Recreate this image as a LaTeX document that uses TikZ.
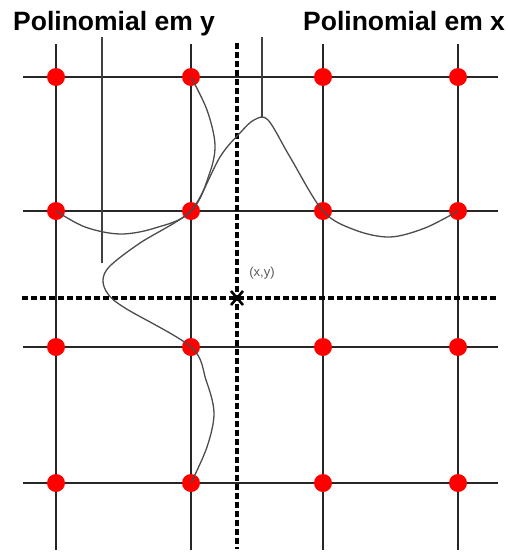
\documentclass[tikz,border=0pt]{standalone}
\usepackage{fontspec}
\setmainfont{Liberation Sans}
\begin{document}
\begin{tikzpicture}[x=1pt,y=-1pt,
  gridline/.style={line width=2.3pt,black!85},
  dashline/.style={line width=3.3pt,black,dash pattern=on 6pt off 3pt},
  thinline/.style={line width=1.1pt,black!75},
  curve/.style={line width=1.3pt,black!70},
  reddot/.style={circle,fill=red,inner sep=0pt,minimum size=18pt},
  title/.style={font=\bfseries\fontsize{26.5}{30}\selectfont,inner sep=0pt,anchor=base west}]
\useasboundingbox (0,0) rectangle (508,552);
% grid lines
\foreach \x in {56,191,323,458} \draw[gridline] (\x,44) -- (\x,550);
\foreach \y in {77,211,347,483} \draw[gridline] (23,\y) -- (498,\y);
% dashed lines through (x,y)
\draw[dashline] (237,43) -- (237,549);
\draw[dashline] (22,298) -- (497,298);
% thin marker lines
\draw[thinline] (102,37) -- (102,263);
\draw[thinline] (262,37) -- (262,118);
% dots
\foreach \i/\x in {1/56,2/191,3/323,4/458}
  \foreach \j/\y in {1/77,2/211,3/347,4/483}
    \node[reddot] (d\i\j) at (\x,\y) {};
% polynomial in x
\draw[curve] plot[smooth,tension=0.55] coordinates {(d12) (85,227) (120,234) (155,228) (d22) (220,157) (240,133) (254,120) (268,120) (290,157) (d32) (355,230) (390,237) (425,228) (d42)};
% polynomial in y
\draw[curve] plot[smooth,tension=0.55] coordinates {(d21) (207,110) (215,145) (209,175) (d22) (140,243) (110,266) (103,280) (108,294) (125,308) (d23) (206,380) (214,413) (207,447) (d24)};
% point (x,y)
\node[inner sep=0pt] (p) at (237,298) {};
\draw[line width=2.6pt] (231,291) -- (243,305) (231,305) -- (243,291);
\node[font=\fontsize{13}{15}\selectfont,text=black!65,anchor=base] (lbl) at (262,276) {(x,y)};
% titles
\node[title] (ty) at (13,30) {Polinomial em y};
\node[title] (tx) at (303,30) {Polinomial em x};
\end{tikzpicture}
\end{document}
